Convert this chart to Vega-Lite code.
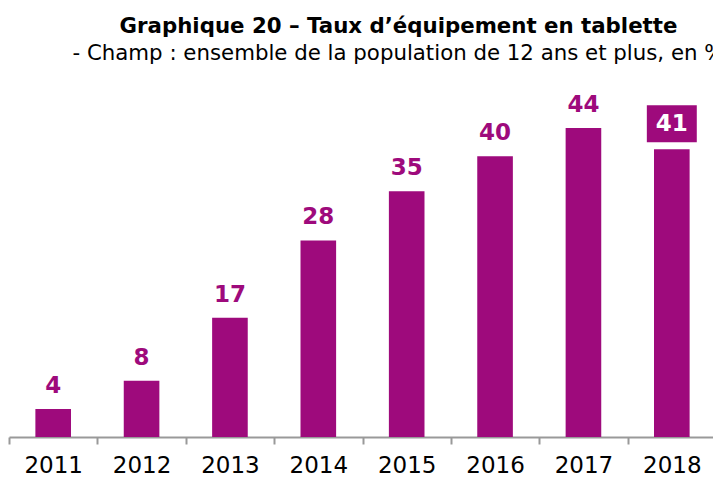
{
  "$schema": "https://vega.github.io/schema/vega-lite/v6.json",
  "autosize": "none",
  "width": 707,
  "height": 351,
  "padding": {"left": 9, "right": -3, "top": 86, "bottom": 41},
  "background": "white",
  "title": {
    "text": "Graphique 20 – Taux d’équipement en tablette",
    "subtitle": "- Champ : ensemble de la population de 12 ans et plus, en %",
    "anchor": "middle",
    "dx": 36,
    "offset": 22,
    "font": "DejaVu Sans",
    "fontSize": 21.3,
    "fontWeight": "bold",
    "color": "black",
    "subtitleFont": "DejaVu Sans",
    "subtitleFontSize": 21.3,
    "subtitleColor": "black",
    "subtitlePadding": 5
  },
  "data": {
    "values": [
      {"year": "2011", "value": 4, "highlight": false},
      {"year": "2012", "value": 8, "highlight": false},
      {"year": "2013", "value": 17, "highlight": false},
      {"year": "2014", "value": 28, "highlight": false},
      {"year": "2015", "value": 35, "highlight": false},
      {"year": "2016", "value": 40, "highlight": false},
      {"year": "2017", "value": 44, "highlight": false},
      {"year": "2018", "value": 41, "highlight": true}
    ]
  },
  "encoding": {
    "x": {
      "field": "year",
      "type": "ordinal",
      "scale": {"paddingInner": 0, "paddingOuter": 0},
      "axis": {
        "title": null,
        "labelAngle": 0,
        "labelFont": "DejaVu Sans",
        "labelFontSize": 23,
        "labelColor": "black",
        "labelPadding": 10,
        "domainColor": "#999999",
        "domainWidth": 2,
        "tickColor": "#999999",
        "tickWidth": 2,
        "tickSize": 7,
        "tickBand": "extent"
      }
    },
    "y": {
      "field": "value",
      "type": "quantitative",
      "scale": {"domain": [0, 50]},
      "axis": null
    }
  },
  "layer": [
    {"mark": {"type": "bar", "color": "#9e0a7c", "width": {"band": 0.403}}},
    {
      "transform": [{"filter": "!datum.highlight"}],
      "mark": {"type": "text", "font": "DejaVu Sans", "fontWeight": "bold", "fontSize": 23, "color": "#9e0a7c", "baseline": "alphabetic", "dy": -16},
      "encoding": {"text": {"field": "value", "type": "quantitative"}}
    },
    {
      "transform": [{"filter": "datum.highlight"}],
      "mark": {"type": "point", "shape": "M-1.35,-1L1.35,-1L1.35,1L-1.35,1Z", "size": 1369, "filled": true, "opacity": 1, "color": "#9e0a7c", "yOffset": -25.5}
    },
    {
      "transform": [{"filter": "datum.highlight"}],
      "mark": {"type": "text", "font": "DejaVu Sans", "fontWeight": "bold", "fontSize": 23, "color": "white", "baseline": "middle", "dy": -25.5},
      "encoding": {"text": {"field": "value", "type": "quantitative"}}
    }
  ],
  "config": {"view": {"stroke": null}}
}
